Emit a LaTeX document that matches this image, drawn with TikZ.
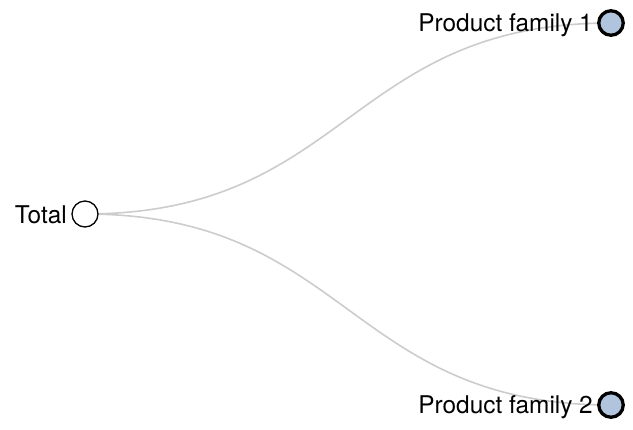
\documentclass[tikz,border=0pt]{standalone}
\usepackage{fontspec}
\setmainfont{TeX Gyre Heros}
\usetikzlibrary{
		calc,
		positioning,
		backgrounds
	}
\tikzset{
		>=stealth
	}
\definecolor{leafblue}{HTML}{B0C4DE}
\definecolor{linkgrey}{HTML}{CCCCCC}

\begin{document}
\begin{tikzpicture}[x=1bp, y=-1bp,
		root/.style={circle, draw, black, line width=1.3bp, fill=white, inner sep=0, minimum size=26bp},
		leaf/.style={circle, draw, black, line width=3.3bp, fill=leafblue, inner sep=0, minimum size=24.5bp},
		lbl/.style={anchor=base east, inner sep=0, font=\fontsize{24.5}{28}\selectfont},
		link/.style={linkgrey, line width=1.6bp}]
		\useasboundingbox (0,0) rectangle (633,429);
		\node[root] (total) at (85,214) {};
		\node[leaf] (pf1) at (611,23) {};
		\node[leaf] (pf2) at (611,405) {};
		\node[lbl] (ltotal) at ($(total.center)+(-18,9)$) {Total};
		\node[lbl] (lpf1) at ($(pf1.center)+(-18,8)$) {Product family 1};
		\node[lbl] (lpf2) at ($(pf2.center)+(-18,8)$) {Product family 2};
		\coordinate (m1) at ($(total)!0.5!(pf1)$);
		\coordinate (m2) at ($(total)!0.5!(pf2)$);
		% links go under the circles and the labels
		\begin{scope}[on background layer]
			\draw[link] (total.center) .. controls (m1 |- total) and (m1 |- pf1) .. (pf1.center);
			\draw[link] (total.center) .. controls (m2 |- total) and (m2 |- pf2) .. (pf2.center);
		\end{scope}
	\end{tikzpicture}
\end{document}
